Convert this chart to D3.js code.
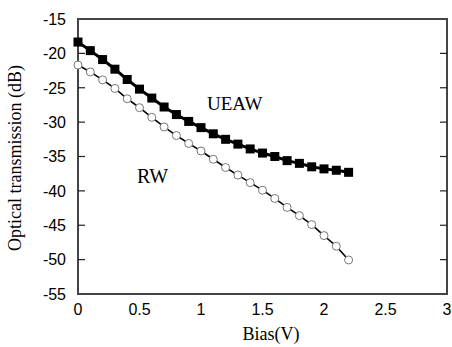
<!DOCTYPE html>
<html lang="en">
<head>
<meta charset="UTF-8">
<title>Optical transmission vs bias</title>
<style>
* { margin: 0; padding: 0; }
body { background: #fff; width: 452px; height: 347px; overflow: hidden; }
svg { display: block; }
.tick-label { font-family: "Liberation Sans", Arial, sans-serif; font-size: 16px; fill: #000; }
.axis-title, .series-label { font-family: "Liberation Serif", "Times New Roman", serif; fill: #000; }
</style>
</head>
<body>
<div id="chart"></div>
<script src="https://cdn.jsdelivr.net/npm/d3@7/dist/d3.min.js"></script>
<script>
// Bias values (V), shared by both curves
var bias = [0, 0.1, 0.2, 0.3, 0.4, 0.5, 0.6, 0.7, 0.8, 0.9, 1.0, 1.1,
	1.2, 1.3, 1.4, 1.5, 1.6, 1.7, 1.8, 1.9, 2.0, 2.1, 2.2];

// UEAW: filled squares, thick line
var ueaw = [-18.35, -19.6, -20.9, -22.3, -23.8, -25.2, -26.5, -27.8, -28.9, -29.9, -30.8, -31.7,
	-32.5, -33.2, -33.9, -34.5, -35.0, -35.6, -36.0, -36.5, -36.8, -37.0, -37.3];

// RW: open circles, thin line
var rw = [-21.7, -22.7, -23.85, -25.1, -26.6, -27.9, -29.3, -30.7, -31.95, -33.1, -34.2, -35.4,
	-36.6, -37.7, -38.8, -39.9, -41.1, -42.4, -43.6, -44.9, -46.5, -48.05, -50.05];

var xTicks = [0, 0.5, 1, 1.5, 2, 2.5, 3];
var xTickLabels = ["0", "0.5", "1", "1.5", "2", "2.5", "3"];
var yTicks = [-15, -20, -25, -30, -35, -40, -45, -50, -55];

var width = 452, height = 347;
var plot = { left: 78, right: 447, top: 19, bottom: 294 };

var x = d3.scaleLinear().domain([0, 3]).range([plot.left, plot.right]);
var y = d3.scaleLinear().domain([-55, -15]).range([plot.bottom, plot.top]);

var svg = d3.select("#chart").append("svg")
	.attr("width", width)
	.attr("height", height);

// frame
svg.append("rect")
	.attr("x", plot.left).attr("y", plot.top)
	.attr("width", plot.right - plot.left).attr("height", plot.bottom - plot.top)
	.attr("fill", "none").attr("stroke", "#444").attr("stroke-width", 2);

// inward ticks on left and right
var tickG = svg.append("g").attr("stroke", "#222").attr("stroke-width", 1.2);
yTicks.slice(1, -1).forEach(function(v) {
	tickG.append("line").attr("x1", plot.left).attr("x2", plot.left + 7)
		.attr("y1", y(v)).attr("y2", y(v));
	tickG.append("line").attr("x1", plot.right - 7).attr("x2", plot.right)
		.attr("y1", y(v)).attr("y2", y(v));
});

// y tick labels
svg.append("g").selectAll("text").data(yTicks).join("text")
	.attr("class", "tick-label")
	.attr("x", plot.left - 12)
	.attr("y", function(d) { return y(d); })
	.attr("dy", "0.36em")
	.attr("text-anchor", "end")
	.text(function(d) { return d; });

// x tick labels
svg.append("g").selectAll("text").data(xTicks).join("text")
	.attr("class", "tick-label")
	.attr("x", function(d) { return x(d); })
	.attr("y", 315)
	.attr("text-anchor", "middle")
	.text(function(d, i) { return xTickLabels[i]; });

// axis titles
svg.append("text")
	.attr("class", "axis-title")
	.attr("font-size", 18)
	.attr("transform", "translate(21," + 158 + ") rotate(-90)")
	.attr("text-anchor", "middle")
	.text("Optical transmission (dB)");

svg.append("text")
	.attr("class", "axis-title")
	.attr("font-size", 18)
	.attr("x", 271).attr("y", 340)
	.attr("text-anchor", "middle")
	.text("Bias(V)");

var ueawPts = bias.map(function(b, i) { return [b, ueaw[i]]; });
var rwPts = bias.map(function(b, i) { return [b, rw[i]]; });

var line = d3.line()
	.x(function(d) { return x(d[0]); })
	.y(function(d) { return y(d[1]); });

// RW curve
svg.append("path").datum(rwPts)
	.attr("d", line)
	.attr("fill", "none").attr("stroke", "#000").attr("stroke-width", 1.6);
svg.append("g").selectAll("circle").data(rwPts).join("circle")
	.attr("cx", function(d) { return x(d[0]); })
	.attr("cy", function(d) { return y(d[1]); })
	.attr("r", 4)
	.attr("fill", "#fff").attr("stroke", "#777").attr("stroke-width", 1);

// UEAW curve
svg.append("path").datum(ueawPts)
	.attr("d", line)
	.attr("fill", "none").attr("stroke", "#000").attr("stroke-width", 3);
svg.append("g").selectAll("rect").data(ueawPts).join("rect")
	.attr("x", function(d) { return x(d[0]) - 4.5; })
	.attr("y", function(d) { return y(d[1]) - 4.5; })
	.attr("width", 9).attr("height", 9)
	.attr("fill", "#000");

// series labels
svg.append("text").attr("class", "series-label")
	.attr("font-size", 19)
	.attr("x", 207).attr("y", 110)
	.text("UEAW");
svg.append("text").attr("class", "series-label")
	.attr("font-size", 20)
	.attr("x", 137).attr("y", 183)
	.text("RW");
</script>
</body>
</html>
